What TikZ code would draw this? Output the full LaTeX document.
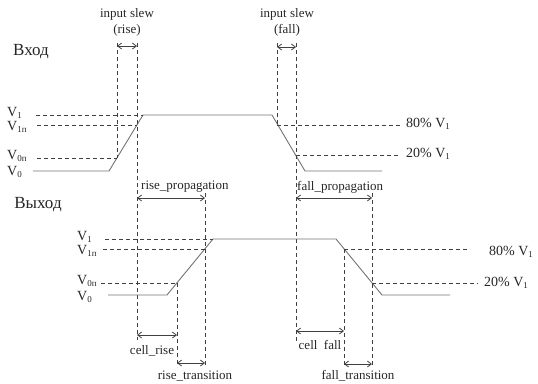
\documentclass[tikz,border=0pt]{standalone}
\usepackage{fontspec}
\setmainfont{Liberation Serif}
\usetikzlibrary{arrows.meta}

\newcommand{\lvsub}[1]{\raisebox{-1.5pt}{\fontsize{9}{9}\selectfont #1}}

\begin{document}
\begin{tikzpicture}[x=1pt, y=-1pt,
    wave/.style={draw=black!55, line width=0.9pt},
    guide/.style={draw=black!75, line width=0.8pt, dash pattern=on 4pt off 3pt},
    span/.style={draw=black!75, line width=0.8pt, {Straight Barb[length=4pt,width=6pt]}-{Straight Barb[length=4pt,width=6pt]}},
    lbl/.style={font=\fontsize{13}{15}\selectfont, inner sep=0pt, text=black!85},
    lvl/.style={font=\fontsize{14}{16}\selectfont, inner sep=0pt, anchor=west, text=black!85},
    head/.style={font=\fontsize{17}{20}\selectfont, inner sep=0pt, text=black!85}]

  \useasboundingbox (0,0) rectangle (538,383);

  % input signal
  \node[head] at (31,52) (inhead) {Вход};
  \node[lvl] at (7,113) (inVa) {V\lvsub{1}};
  \node[lvl] at (7,127) (inVap) {V\lvsub{1п}};
  \node[lvl] at (7,156) (inVbp) {V\lvsub{0п}};
  \node[lvl] at (7,172) (inVb) {V\lvsub{0}};

  \coordinate (a0) at (33,171);
  \coordinate (a1) at (109,171);
  \coordinate (a2) at (143,115);
  \coordinate (a3) at (272,115);
  \coordinate (a4) at (305,171);
  \coordinate (a5) at (382,171);
  \draw[wave] (a0) -- (a1) -- (a2) -- (a3) -- (a4) -- (a5);

  \draw[guide] (36,115) -- (a2);
  \draw[guide] (37,125) -- (137,125);
  \draw[guide] (37,158) -- (117,158);
  \draw[guide] (277,125) -- (400,125);
  \draw[guide] (296,155) -- (400,155);
  \node[lvl] at (406,124) (inhi) {80\% V\lvsub{1}};
  \node[lvl] at (406,154) (inlo) {20\% V\lvsub{1}};

  % input slew
  \coordinate (rs0) at (117,43);
  \coordinate (rs1) at (137,43);
  \coordinate (fs0) at (277,43);
  \coordinate (fs1) at (296,43);
  \draw[guide] (rs0) -- (117,158);
  \draw[guide] (rs1) -- (137,340);
  \draw[guide] (fs0) -- (277,125);
  \draw[guide] (fs1) -- (296,342);
  \draw[span] (117,46) -- (137,46);
  \draw[span] (277,47) -- (296,47);
  \node[lbl] at (127,14) (slewr) {input slew};
  \node[lbl] at (127,30) (slewrb) {(rise)};
  \node[lbl] at (287,14) (slewf) {input slew};
  \node[lbl] at (287,30) (slewfb) {(fall)};

  % output signal
  \node[head] at (38,205) (outhead) {Выход};
  \node[lvl] at (77,237) (outVa) {V\lvsub{1}};
  \node[lvl] at (77,251) (outVap) {V\lvsub{1п}};
  \node[lvl] at (77,281) (outVbp) {V\lvsub{0п}};
  \node[lvl] at (77,297) (outVb) {V\lvsub{0}};

  \coordinate (b0) at (108,295);
  \coordinate (b1) at (167,295);
  \coordinate (b2) at (213,239);
  \coordinate (b3) at (336,239);
  \coordinate (b4) at (382,295);
  \coordinate (b5) at (450,295);
  \draw[wave] (b0) -- (b1) -- (b2) -- (b3) -- (b4) -- (b5);

  \draw[guide] (105,239) -- (b2);
  \draw[guide] (103,249) -- (205,249);
  \draw[guide] (101,283) -- (177,283);
  \draw[guide] (344,249) -- (468,249);
  \draw[guide] (372,283) -- (478,283);
  \node[lvl] at (489,252) (outhi) {80\% V\lvsub{1}};
  \node[lvl] at (484,283) (outlo) {20\% V\lvsub{1}};

  % delays
  \draw[guide] (177,283) -- (177,367);
  \draw[guide] (205,193) -- (205,367);
  \draw[guide] (344,249) -- (344,367);
  \draw[guide] (372,193) -- (372,367);

  \draw[span] (137,198) -- (205,198);
  \draw[span] (296,198) -- (372,198);
  \draw[span] (137,335) -- (177,335);
  \draw[span] (177,363) -- (205,363);
  \draw[span] (296,331) -- (344,331);
  \draw[span] (344,364) -- (372,364);

  \node[lbl, anchor=west] at (141,187) (riseprop) {rise\_propagation};
  \node[lbl, anchor=west] at (297,187) (fallprop) {fall\_propagation};
  \node[lbl] at (152,351) (cellrise) {cell\_rise};
  \node[lbl] at (195,376) (risetr) {rise\_transition};
  \node[lbl] at (320,345) (cellfall) {cell\ \ fall};
  \node[lbl] at (358,376) (falltr) {fall\_transition};
\end{tikzpicture}
\end{document}
